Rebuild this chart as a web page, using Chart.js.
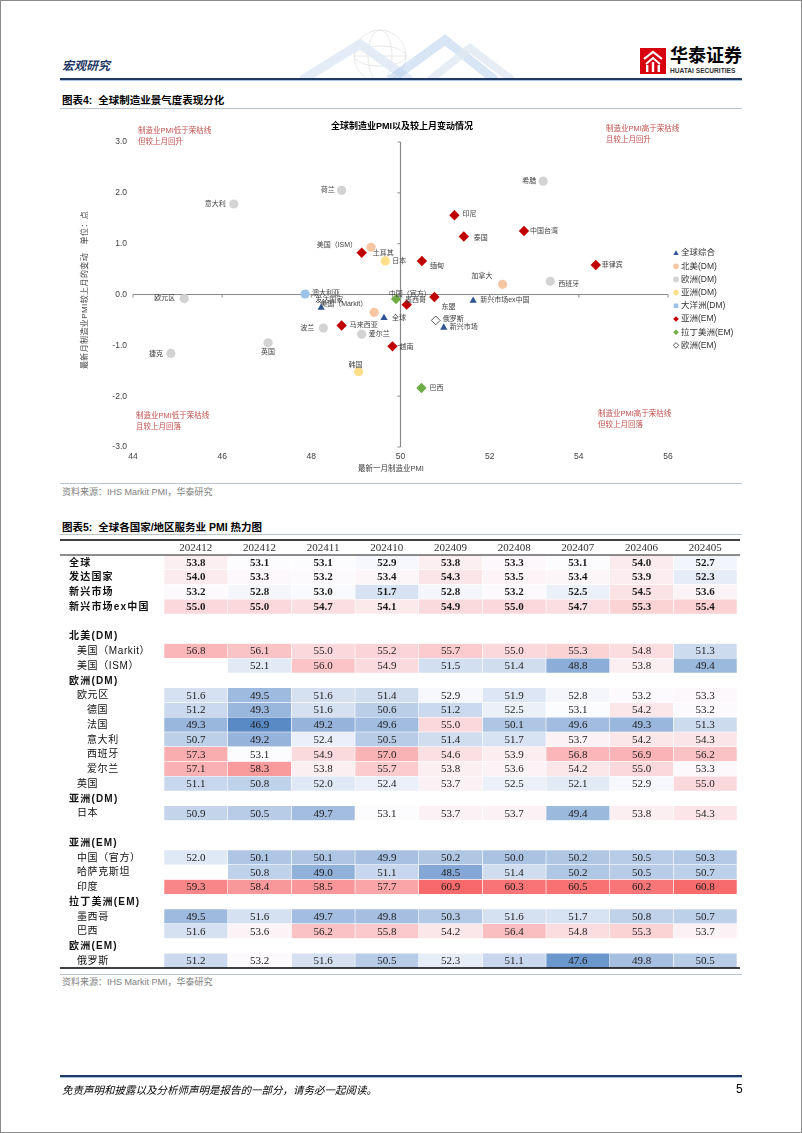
<!DOCTYPE html>
<html lang="zh-CN">
<head>
<meta charset="utf-8">
<title>全球制造业PMI / 服务业PMI热力图</title>
<script src="https://cdn.jsdelivr.net/npm/chart.js@4.4.1/dist/chart.umd.min.js"></script>
<style>
html,body{margin:0;padding:0;background:#fff;}
#page{position:relative;width:802px;height:1133px;overflow:hidden;background:#fff;font-family:"Liberation Sans","Noto Sans CJK SC",sans-serif;color:#000;}
.abs{position:absolute;white-space:nowrap;}
.rule{position:absolute;left:60px;width:682px;}
.note{position:absolute;white-space:nowrap;font-size:7.5px;line-height:10.5px;color:#C0504D;}
</style>
</head>
<body>
<div id="page">
  <!-- header decoration -->
  <svg class="abs" style="left:280px;top:26px" width="250" height="52">
    <g fill="none" stroke="#e2e2e2" stroke-width="0.8">
      <circle cx="100" cy="30" r="26"/>
      <ellipse cx="100" cy="30" rx="12" ry="26"/>
      <ellipse cx="100" cy="30" rx="26" ry="10"/>
      <line x1="74" y1="30" x2="126" y2="30"/>
    </g>
    <polyline points="22,54 80,18 130,54" fill="none" stroke="#dde9f5" stroke-width="9" opacity="0.8"/>
    <polyline points="110,54 165,14 215,54" fill="none" stroke="#a9c5e6" stroke-width="9" opacity="0.45"/>
    <polyline points="150,54 190,22 232,54" fill="none" stroke="#e1e8f1" stroke-width="8" opacity="0.8"/>
  </svg>
  <div class="abs" style="left:62px;top:58px;font-size:12px;font-weight:bold;font-style:italic;color:#1F3864;line-height:16px;">宏观研究</div>
  <svg class="abs" style="left:640px;top:48px" width="26" height="26">
    <rect width="26" height="26" fill="#D7000F"/>
    <polyline points="4,11 13,4 22,11" fill="none" stroke="#fff" stroke-width="2.2"/>
    <polyline points="6,16 13,10 20,16" fill="none" stroke="#fff" stroke-width="2"/>
    <rect x="6" y="17" width="2.4" height="7" fill="#fff"/>
    <rect x="11.8" y="14" width="2.4" height="10" fill="#fff"/>
    <rect x="17.6" y="17" width="2.4" height="7" fill="#fff"/>
  </svg>
  <div class="abs" style="left:670px;top:46px;font-size:18px;font-weight:bold;line-height:20px;">华泰证券</div>
  <div class="abs" style="left:670px;top:67px;font-size:6.6px;font-weight:bold;line-height:8px;color:#333;">HUATAI SECURITIES</div>
  <div class="rule" style="top:78px;height:2px;background:#1F3864;"></div>
  <div class="rule" style="top:80px;height:1px;background:#a9c4e4;"></div>

  <div class="abs" style="left:62px;top:93px;font-size:10.5px;font-weight:bold;line-height:14px;">图表4:&nbsp;&nbsp;全球制造业景气度表现分化</div>
  <div class="rule" style="top:108px;height:1px;background:#b9c4d0;"></div>

  <div class="abs" style="left:0;top:110px;width:802px;height:370px;"><canvas id="scatter"></canvas></div>
  <div class="abs" style="left:302px;top:120px;width:200px;text-align:center;font-size:9px;font-weight:bold;line-height:12px;">全球制造业PMI以及较上月变动情况</div>
  <div class="abs" style="left:-5px;top:284px;width:180px;text-align:center;font-size:8px;letter-spacing:0.4px;line-height:12px;color:#404040;transform:rotate(-90deg);transform-origin:90px 6px;">最新月制造业PMI较上月的变动　单位：点</div>
  <div class="abs" style="left:331px;top:463px;width:120px;text-align:center;font-size:7.5px;line-height:12px;color:#404040;">最新一月制造业PMI</div>
  <div class="note" style="left:138px;top:126px;">制造业PMI低于荣枯线<br>但较上月回升</div>
  <div class="note" style="left:606px;top:124px;">制造业PMI高于荣枯线<br>且较上月回升</div>
  <div class="note" style="left:136px;top:411px;">制造业PMI低于荣枯线<br>且较上月回落</div>
  <div class="note" style="left:598px;top:409px;">制造业PMI高于荣枯线<br>但较上月回落</div>

  <div class="rule" style="top:483px;height:1px;background:#b9c4d0;"></div>
  <div class="abs" style="left:62px;top:486px;font-size:9px;line-height:12px;color:#808080;">资料来源：IHS Markit PMI，华泰研究</div>

  <div class="abs" style="left:62px;top:520px;font-size:10.5px;font-weight:bold;line-height:14px;">图表5:&nbsp;&nbsp;全球各国家/地区服务业 PMI 热力图</div>
  <div class="rule" style="top:534px;height:1px;background:#b9c4d0;"></div>

  <div class="abs" style="left:0;top:538px;width:802px;height:432px;"><canvas id="heat"></canvas></div>

  <div class="rule" style="top:974px;height:1px;background:#b9c4d0;"></div>
  <div class="abs" style="left:62px;top:976px;font-size:9px;line-height:12px;color:#808080;">资料来源：IHS Markit PMI，华泰研究</div>

  <div class="rule" style="top:1075px;height:2px;background:#1F3864;"></div>
  <div class="rule" style="top:1077px;height:1px;background:#a9c4e4;"></div>
  <div class="abs" style="left:62px;top:1083px;font-size:10.5px;font-style:italic;line-height:14px;">免责声明和披露以及分析师声明是报告的一部分，请务必一起阅读。</div>
  <div class="abs" style="left:736px;top:1082px;font-size:12px;line-height:15px;">5</div>
  <div class="abs" style="left:0;top:0;width:800px;height:1131px;border:1px solid #8c8c8c;"></div>
</div>

<script>
// ================= DATA: Figure 4 (scatter) =================
const xTickMin = 44, xTickMax = 56, xTickStep = 2;
const yTickMin = -3, yTickMax = 3, yTickStep = 1;
const pmiThreshold = 50;     // 荣枯线
const changeZero = 0;

const groupNames = ['全球综合','北美(DM)','欧洲(DM)','亚洲(DM)','大洋洲(DM)','亚洲(EM)','拉丁美洲(EM)','欧洲(EM)'];

const globalNames = ['发达国家','全球','新兴市场ex中国','新兴市场'];
const globalPMI   = [48.22, 49.63, 51.63, 50.97];
const globalChg   = [-0.26, -0.46, -0.12, -0.65];

const naNames = ['美国（ISM）','加拿大','美国（Markit）'];
const naPMI   = [49.34, 52.29, 49.41];
const naChg   = [0.93, 0.20, -0.35];

const euDmNames = ['荷兰','意大利','希腊','西班牙','欧元区','波兰','英国','捷克','爱尔兰'];
const euDmPMI   = [48.68, 46.26, 53.20, 53.36, 45.15, 48.27, 47.03, 44.85, 49.13];
const euDmChg   = [2.05, 1.78, 2.23, 0.26, -0.08, -0.66, -0.95, -1.16, -0.78];

const asDmNames = ['日本','韩国'];
const asDmPMI   = [49.66, 49.06];
const asDmChg   = [0.66, -1.52];

const ocNames = ['澳大利亚'];
const ocPMI   = [47.86];
const ocChg   = [0.01];

const asEmNames = ['印尼','泰国','中国台湾','菲律宾','缅甸','土耳其','中国（官方）','东盟','马来西亚','越南'];
const asEmPMI   = [51.21, 51.42, 52.77, 54.38, 50.48, 49.13, 50.14, 50.76, 48.68, 49.82];
const asEmChg   = [1.56, 1.14, 1.25, 0.58, 0.66, 0.82, -0.20, -0.05, -0.61, -1.02];

const laNames = ['墨西哥','巴西'];
const laPMI   = [49.90, 50.47];
const laChg   = [-0.09, -1.84];

const euEmNames = ['俄罗斯'];
const euEmPMI   = [50.79];
const euEmChg   = [-0.51];

// ================= DATA: Figure 5 (heat map) =================
const columns = ['202412','202412','202411','202410','202409','202408','202407','202406','202405'];
const rowLabels = ['全球','发达国家','新兴市场','新兴市场ex中国','','北美(DM)','美国（Markit）','美国（ISM）','欧洲(DM)','欧元区','德国','法国','意大利','西班牙','爱尔兰','英国','亚洲(DM)','日本','','亚洲(EM)','中国（官方）','哈萨克斯坦','印度','拉丁美洲(EM)','墨西哥','巴西','欧洲(EM)','俄罗斯'];

const svcGlobal     = [53.8,53.1,53.1,52.9,53.8,53.3,53.1,54.0,52.7];
const svcDeveloped  = [54.0,53.3,53.2,53.4,54.3,53.5,53.4,53.9,52.3];
const svcEmerging   = [53.2,52.8,53.0,51.7,52.8,53.2,52.5,54.5,53.6];
const svcEmExChina  = [55.0,55.0,54.7,54.1,54.9,55.0,54.7,55.3,55.4];
const svcUSMarkit   = [56.8,56.1,55.0,55.2,55.7,55.0,55.3,54.8,51.3];
const svcUSISM      = [null,52.1,56.0,54.9,51.5,51.4,48.8,53.8,49.4];
const svcEurozone   = [51.6,49.5,51.6,51.4,52.9,51.9,52.8,53.2,53.3];
const svcGermany    = [51.2,49.3,51.6,50.6,51.2,52.5,53.1,54.2,53.2];
const svcFrance     = [49.3,46.9,49.2,49.6,55.0,50.1,49.6,49.3,51.3];
const svcItaly      = [50.7,49.2,52.4,50.5,51.4,51.7,53.7,54.2,54.3];
const svcSpain      = [57.3,53.1,54.9,57.0,54.6,53.9,56.8,56.9,56.2];
const svcIreland    = [57.1,58.3,53.8,55.7,53.8,53.6,54.2,55.0,53.3];
const svcUK         = [51.1,50.8,52.0,52.4,53.7,52.5,52.1,52.9,55.0];
const svcJapan      = [50.9,50.5,49.7,53.1,53.7,53.7,49.4,53.8,54.3];
const svcChina      = [52.0,50.1,50.1,49.9,50.2,50.0,50.2,50.5,50.3];
const svcKazakhstan = [null,50.8,49.0,51.1,48.5,51.4,50.2,50.5,50.7];
const svcIndia      = [59.3,58.4,58.5,57.7,60.9,60.3,60.5,60.2,60.8];
const svcMexico     = [49.5,51.6,49.7,49.8,50.3,51.6,51.7,50.8,50.7];
const svcBrazil     = [51.6,53.6,56.2,55.8,54.2,56.4,54.8,55.3,53.7];
const svcRussia     = [51.2,53.2,51.6,50.5,52.3,51.1,47.6,49.8,50.5];

const rowValues = [svcGlobal, svcDeveloped, svcEmerging, svcEmExChina, null, null, svcUSMarkit, svcUSISM, null,
  svcEurozone, svcGermany, svcFrance, svcItaly, svcSpain, svcIreland, svcUK, null, svcJapan, null, null,
  svcChina, svcKazakhstan, svcIndia, null, svcMexico, svcBrazil, null, svcRussia];

// ================= STYLES =================
const FONT = '"Liberation Sans","Noto Sans CJK SC",sans-serif';
const SERIF = '"Liberation Serif","Noto Sans CJK SC",serif';
Chart.defaults.font.family = FONT;

const groupStyles = [
  {pointStyle:'triangle', radius:4.2, bg:'#2F5597', border:'#2F5597', bw:0},
  {pointStyle:'circle',   radius:4.6, bg:'#F7C6A3', border:'#F7C6A3', bw:0},
  {pointStyle:'circle',   radius:4.6, bg:'#D3D3D3', border:'#D3D3D3', bw:0},
  {pointStyle:'circle',   radius:4.6, bg:'#FFE08A', border:'#FFE08A', bw:0},
  {pointStyle:'circle',   radius:4.6, bg:'#9DC3E6', border:'#9DC3E6', bw:0},
  {pointStyle:'rectRot',  radius:5.2, bg:'#C00000', border:'#C00000', bw:0},
  {pointStyle:'rectRot',  radius:5.2, bg:'#70AD47', border:'#70AD47', bw:0},
  {pointStyle:'rectRot',  radius:4.4, bg:'#FFFFFF', border:'#595959', bw:1}
];

// label placement: [dx, dy, align] relative to marker
const labelPlacement = {
 '荷兰':[-7,0,'right'], '意大利':[-8,0,'right'], '希腊':[-7,0,'right'], '西班牙':[8,3,'left'],
 '欧元区':[-9,-1,'right'], '波兰':[-9,0,'right'], '英国':[0,9,'center'], '捷克':[-8,1,'right'], '爱尔兰':[7,0,'left'],
 '美国（ISM）':[-14,-2,'right'], '加拿大':[-10,-8,'right'], '美国（Markit）':[-7,-8,'right'],
 '日本':[7,0,'left'], '韩国':[-3,-7,'center'], '澳大利亚':[7,-1,'left'],
 '印尼':[8,-1,'left'], '泰国':[10,2,'left'], '中国台湾':[6,0,'left'], '菲律宾':[6,0,'left'], '缅甸':[8,5,'left'],
 '土耳其':[11,0,'left'], '中国（官方）':[3,-11,'center'], '东盟':[7,10,'left'], '马来西亚':[8,0,'left'], '越南':[7,1,'left'],
 '墨西哥':[9,1,'left'], '巴西':[8,0,'left'],
 '发达国家':[-6,-8,'left'], '全球':[8,0,'left'], '新兴市场ex中国':[7,-1,'left'], '新兴市场':[6,0,'left'], '俄罗斯':[7,-1,'left']
};

// ================= FIGURE 4 =================
const groupData = [
  [globalNames, globalPMI, globalChg], [naNames, naPMI, naChg], [euDmNames, euDmPMI, euDmChg],
  [asDmNames, asDmPMI, asDmChg], [ocNames, ocPMI, ocChg], [asEmNames, asEmPMI, asEmChg],
  [laNames, laPMI, laChg], [euEmNames, euEmPMI, euEmChg]
];

const scatterDatasets = groupData.map((g, gi) => {
  const st = groupStyles[gi];
  return {
    label: groupNames[gi],
    data: g[1].map((x, i) => ({x: x, y: g[2][i], name: g[0][i]})),
    pointStyle: st.pointStyle,
    pointRadius: st.radius,
    pointHoverRadius: st.radius,
    backgroundColor: st.bg,
    borderColor: st.border,
    borderWidth: st.bw
  };
});

function drawMarker(ctx, style, x, y, r) {
  ctx.save();
  ctx.fillStyle = style.bg; ctx.strokeStyle = style.border; ctx.lineWidth = style.bw || 0;
  ctx.beginPath();
  if (style.pointStyle === 'triangle') {
    ctx.moveTo(x, y - r); ctx.lineTo(x + r * 0.95, y + r * 0.7); ctx.lineTo(x - r * 0.95, y + r * 0.7); ctx.closePath();
  } else if (style.pointStyle === 'rectRot') {
    ctx.moveTo(x, y - r); ctx.lineTo(x + r, y); ctx.lineTo(x, y + r); ctx.lineTo(x - r, y); ctx.closePath();
  } else if (style.pointStyle === 'rect') {
    ctx.rect(x - r, y - r, 2 * r, 2 * r);
  } else {
    ctx.arc(x, y, r, 0, Math.PI * 2);
  }
  ctx.fill();
  if (style.bw) ctx.stroke();
  ctx.restore();
}

const crossAxes = {
  id: 'crossAxes',
  beforeDatasetsDraw(chart) {
    const ctx = chart.ctx, xs = chart.scales.x, ys = chart.scales.y;
    const px = xs.getPixelForValue(pmiThreshold), py = ys.getPixelForValue(changeZero);
    ctx.save();
    ctx.strokeStyle = '#8a8a8a'; ctx.lineWidth = 1.2;
    ctx.beginPath();
    ctx.moveTo(px, ys.top); ctx.lineTo(px, ys.bottom);
    ctx.moveTo(xs.left, py); ctx.lineTo(xs.right, py);
    ctx.stroke();
    ctx.lineWidth = 1;
    ctx.beginPath();
    xs.ticks.forEach(t => { const tx = xs.getPixelForValue(t.value); ctx.moveTo(tx, py); ctx.lineTo(tx, py + 3); });
    ys.ticks.forEach(t => { const ty = ys.getPixelForValue(t.value); ctx.moveTo(px - 3, ty); ctx.lineTo(px, ty); });
    ctx.stroke();
    ctx.restore();
  }
};

const pointLabels = {
  id: 'pointLabels',
  afterDatasetsDraw(chart) {
    const ctx = chart.ctx;
    ctx.save();
    ctx.font = '7px ' + FONT;
    ctx.fillStyle = '#404040';
    ctx.textBaseline = 'middle';
    chart.data.datasets.forEach((ds, di) => {
      const meta = chart.getDatasetMeta(di);
      meta.data.forEach((el, i) => {
        const name = ds.data[i].name;
        const p = labelPlacement[name] || [8, 0, 'left'];
        ctx.textAlign = p[2];
        ctx.fillText(name, el.x + p[0], el.y + p[1]);
      });
    });
    ctx.restore();
  }
};

const sideLegend = {
  id: 'sideLegend',
  afterDraw(chart) {
    const ctx = chart.ctx, area = chart.chartArea;
    const x0 = area.right + 8, y0 = area.top + 111, step = 13.2;
    ctx.save();
    ctx.font = '8.5px ' + FONT;
    ctx.textBaseline = 'middle';
    ctx.textAlign = 'left';
    chart.data.datasets.forEach((ds, di) => {
      const y = y0 + di * step;
      const st = groupStyles[di];
      const legStyle = di === 4 ? Object.assign({}, st, {pointStyle: 'rect'}) : st;
      drawMarker(ctx, legStyle, x0, y, di === 4 ? 2.3 : 2.8);
      ctx.fillStyle = '#333';
      ctx.fillText(ds.label, x0 + 5, y);
    });
    ctx.restore();
  }
};

new Chart(document.getElementById('scatter'), {
  type: 'scatter',
  data: {datasets: scatterDatasets},
  options: {
    responsive: true, maintainAspectRatio: false, animation: false, devicePixelRatio: 1,
    layout: {padding: {left: 60, right: 134, top: 32, bottom: 0}},
    plugins: {legend: {display: false}, tooltip: {enabled: false}, title: {display: false}},
    scales: {
      x: {
        type: 'linear', min: xTickMin, max: xTickMax,
        grid: {display: false, drawTicks: false}, border: {display: false},
        ticks: {stepSize: xTickStep, padding: 5, color: '#404040', font: {size: 8.5}, maxRotation: 0},
        afterFit(s) { s.height = 33; }
      },
      y: {
        type: 'linear', min: yTickMin, max: yTickMax,
        grid: {display: false, drawTicks: false}, border: {display: false},
        ticks: {stepSize: yTickStep, padding: 6, color: '#404040', font: {size: 8.5}, callback: v => Number(v).toFixed(1)},
        afterFit(s) { s.width = 73; }
      }
    }
  },
  plugins: [crossAxes, pointLabels, sideLegend]
});

// ================= FIGURE 5 =================
const boldRows = ['全球','发达国家','新兴市场','新兴市场ex中国','北美(DM)','欧洲(DM)','亚洲(DM)','亚洲(EM)','拉丁美洲(EM)','欧洲(EM)'];
const boldValueRows = ['全球','发达国家','新兴市场','新兴市场ex中国'];
const deepIndentRows = ['德国','法国','意大利','西班牙','爱尔兰'];

const allVals = rowValues.filter(Boolean).flat().filter(v => v != null).sort((a, b) => a - b);
const vMin = allVals[0], vMax = allVals[allVals.length - 1];
const vMid = allVals.length % 2 ? allVals[(allVals.length - 1) / 2] : (allVals[allVals.length / 2 - 1] + allVals[allVals.length / 2]) / 2;
const WHITE = [252, 252, 255], BLUE = [90, 138, 198], RED = [248, 105, 107];
function heatColor(v) {
  if (v == null) return 'rgba(0,0,0,0)';
  let t, c;
  if (v <= vMid) { t = (vMid - v) / (vMid - vMin); c = BLUE; }
  else { t = (v - vMid) / (vMax - vMid); c = RED; }
  t = Math.max(0, Math.min(1, t));
  const m = WHITE.map((w, k) => Math.round(w + (c[k] - w) * t));
  return 'rgb(' + m.join(',') + ')';
}

const heatDatasets = columns.map((col, c) => ({
  label: col,
  data: rowValues.map(vals => (vals && vals[c] != null) ? [c, c + 1] : null),
  backgroundColor: rowValues.map(vals => heatColor(vals ? vals[c] : null)),
  borderColor: '#ffffff',
  borderWidth: 0.6,
  borderSkipped: false,
  grouped: false,
  barPercentage: 1,
  categoryPercentage: 1
}));

const tableDecor = {
  id: 'tableDecor',
  afterDatasetsDraw(chart) {
    const ctx = chart.ctx, area = chart.chartArea, ys = chart.scales.y, xs = chart.scales.x;
    ctx.save();
    // column headers
    ctx.textAlign = 'center'; ctx.textBaseline = 'middle'; ctx.fillStyle = '#333';
    ctx.font = '11px ' + SERIF;
    columns.forEach((col, c) => ctx.fillText(col, xs.getPixelForValue(c + 0.5), area.top - 7));
    // cell values
    ctx.fillStyle = '#1a1a1a';
    chart.data.datasets.forEach((ds, c) => {
      chart.getDatasetMeta(c).data.forEach((el, r) => {
        const vals = rowValues[r];
        if (!vals || vals[c] == null) return;
        const bold = boldValueRows.includes(rowLabels[r]);
        ctx.font = (bold ? 'bold ' : '') + '11px ' + SERIF;
        ctx.fillText(vals[c].toFixed(1), (el.x + el.base) / 2, el.y + 0.5);
      });
    });
    // row labels
    ctx.textAlign = 'left';
    rowLabels.forEach((lab, r) => {
      if (!lab) return;
      const y = ys.getPixelForValue(r);
      const bold = boldRows.includes(lab);
      let x = area.left - 95;
      if (!bold) x = deepIndentRows.includes(lab) ? area.left - 77 : area.left - 87;
      ctx.font = (bold ? 'bold ' : '') + '10px ' + FONT;
      try { ctx.letterSpacing = bold ? '1.2px' : '0.6px'; } catch (e) {}
      ctx.fillStyle = '#111';
      ctx.fillText(lab, x, y + 0.5);
    });
    try { ctx.letterSpacing = '0px'; } catch (e) {}
    // rules
    const L = area.left - 104, R = area.right + 3;
    ctx.strokeStyle = '#000';
    ctx.lineWidth = 1.6;
    ctx.beginPath(); ctx.moveTo(L, area.top - 15); ctx.lineTo(R, area.top - 15); ctx.stroke();
    ctx.lineWidth = 0.9;
    ctx.beginPath(); ctx.moveTo(L, area.top); ctx.lineTo(R, area.top); ctx.stroke();
    ctx.lineWidth = 1.6;
    ctx.beginPath(); ctx.moveTo(L, area.bottom); ctx.lineTo(R, area.bottom); ctx.stroke();
    ctx.restore();
  }
};

new Chart(document.getElementById('heat'), {
  type: 'bar',
  data: {labels: rowLabels, datasets: heatDatasets},
  options: {
    indexAxis: 'y',
    responsive: true, maintainAspectRatio: false, animation: false, devicePixelRatio: 1,
    layout: {padding: {left: 164, right: 65, top: 2, bottom: 2}},
    plugins: {legend: {display: false}, tooltip: {enabled: false}},
    scales: {
      y: {type: 'category', display: false, offset: true},
      x: {
        type: 'linear', position: 'top', min: 0, max: columns.length,
        grid: {display: false, drawTicks: false}, border: {display: false},
        afterBuildTicks(s) { s.ticks = columns.map((_, c) => ({value: c + 0.5})); },
        ticks: {display: false, autoSkip: false, maxRotation: 0},
        afterFit(s) { s.height = 15; }
      }
    }
  },
  plugins: [tableDecor]
});
</script>
</body>
</html>
